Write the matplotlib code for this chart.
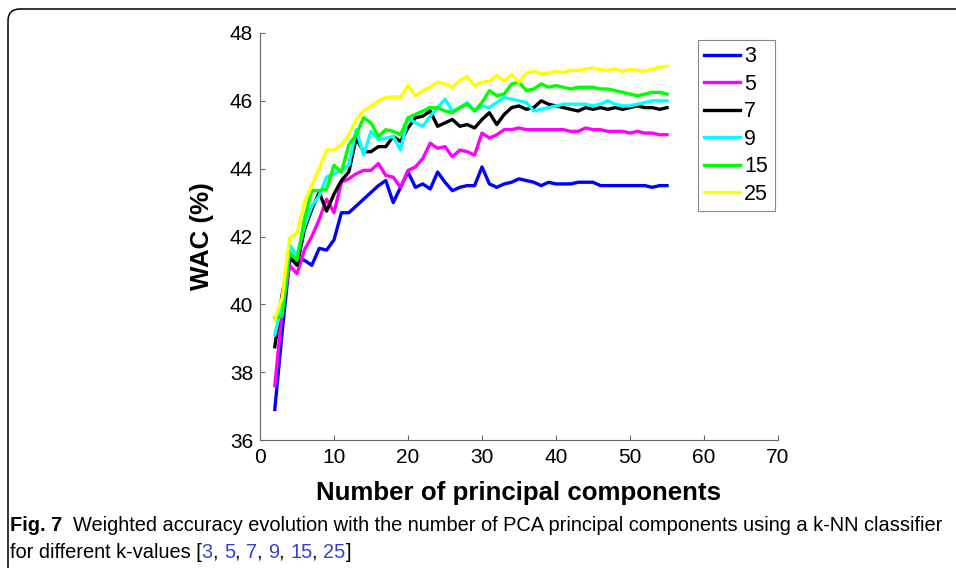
import matplotlib
matplotlib.use("Agg")
import matplotlib.pyplot as plt
from matplotlib.path import Path
from matplotlib.patches import PathPatch


W_PX, H_PX = 956, 568

n_components = list(range(2, 56))

wac_k3 = [36.9, 39.2, 41.3, 41.3, 41.3, 41.15, 41.65, 41.6, 41.9, 42.7,
          42.7, 42.9, 43.1, 43.3, 43.5, 43.65, 43.0, 43.45, 43.9, 43.45,
          43.55, 43.4, 43.9, 43.6, 43.35, 43.45, 43.5, 43.5, 44.05, 43.55,
          43.45, 43.55, 43.6, 43.7, 43.65, 43.6, 43.5, 43.6, 43.55, 43.55,
          43.55, 43.6, 43.6, 43.6, 43.5, 43.5, 43.5, 43.5, 43.5, 43.5,
          43.5, 43.45, 43.5, 43.5]
wac_k5 = [37.6, 39.8, 41.15, 40.9, 41.6, 42.0, 42.5, 43.1, 42.7, 43.6,
          43.7, 43.85, 43.95, 43.95, 44.15, 43.8, 43.75, 43.45, 43.95, 44.05,
          44.3, 44.75, 44.6, 44.65, 44.35, 44.55, 44.5, 44.4, 45.05, 44.9,
          45.0, 45.15, 45.15, 45.2, 45.15, 45.15, 45.15, 45.15, 45.15, 45.15,
          45.1, 45.1, 45.2, 45.15, 45.15, 45.1, 45.1, 45.1, 45.05, 45.1,
          45.05, 45.05, 45.0, 45.0]
wac_k7 = [38.75, 40.3, 41.4, 41.15, 42.2, 42.8, 43.3, 42.75, 43.25, 43.65,
          43.9, 44.9, 44.5, 44.5, 44.65, 44.65, 44.95, 44.8, 45.2, 45.5,
          45.55, 45.7, 45.25, 45.35, 45.45, 45.25, 45.3, 45.2, 45.45, 45.65,
          45.3, 45.6, 45.8, 45.85, 45.75, 45.8, 46.0, 45.9, 45.85, 45.8,
          45.75, 45.7, 45.8, 45.75, 45.8, 45.75, 45.8, 45.75, 45.8, 45.85,
          45.8, 45.8, 45.75, 45.8]
wac_k9 = [39.1, 40.0, 41.75, 41.45, 42.3, 42.9, 43.2, 43.75, 43.85, 43.95,
          44.1, 45.15, 44.4, 45.1, 44.85, 44.9, 44.95, 44.55, 45.5, 45.35,
          45.25, 45.55, 45.8, 46.05, 45.7, 45.8, 45.95, 45.7, 45.85, 45.8,
          45.95, 46.1, 46.05, 46.0, 45.95, 45.7, 45.75, 45.8, 45.85, 45.9,
          45.9, 45.9, 45.9, 45.85, 45.9, 46.0, 45.9, 45.85, 45.85, 45.9,
          45.95, 46.0, 46.0, 46.0]
wac_k15 = [39.6, 39.65, 41.55, 41.3, 42.5, 43.35, 43.35, 43.4, 44.1, 43.9,
           44.7, 45.0, 45.5, 45.35, 44.95, 45.15, 45.1, 45.0, 45.5, 45.6,
           45.7, 45.8, 45.8, 45.7, 45.65, 45.8, 45.9, 45.7, 45.95, 46.3,
           46.15, 46.2, 46.5, 46.55, 46.3, 46.35, 46.5, 46.4, 46.45, 46.4,
           46.35, 46.4, 46.4, 46.4, 46.35, 46.35, 46.3, 46.25, 46.2, 46.15,
           46.2, 46.25, 46.25, 46.2]
wac_k25 = [39.55, 40.2, 41.95, 42.1, 43.0, 43.5, 44.0, 44.55, 44.55, 44.7,
           45.0, 45.45, 45.7, 45.85, 46.0, 46.1, 46.12, 46.1, 46.45, 46.15,
           46.3, 46.4, 46.55, 46.5, 46.4, 46.6, 46.72, 46.45, 46.55, 46.58,
           46.75, 46.58, 46.78, 46.55, 46.82, 46.87, 46.8, 46.82, 46.88, 46.83,
           46.9, 46.9, 46.94, 46.97, 46.92, 46.9, 46.94, 46.87, 46.93, 46.9,
           46.88, 46.93, 47.0, 47.02]

k_labels = ["3", "5", "7", "9", "15", "25"]
k_colors = ["#0000ff", "#ff00ff", "#000000", "#00ffff", "#00ff00", "#ffff00"]

x_ticks = [0, 10, 20, 30, 40, 50, 60, 70]
y_ticks = [36, 38, 40, 42, 44, 46, 48]

caption_head = "Fig. 7"
caption_line1 = ("Weighted accuracy evolution with the number of PCA principal "
                 "components using a k-NN classifier")
caption_line2 = "for different k-values ["
caption_refs = ["3", "5", "7", "9", "15", "25"]


def fx(px):
    return px / W_PX


def fy(py):
    return 1 - py / H_PX


def chain_text(ax, first, pieces, fontsize, family):
    prev = first
    for text, color in pieces:
        prev = ax.annotate(text, xy=(1, 0), xycoords=prev, ha="left", va="bottom",
                           fontsize=fontsize, family=family, color=color,
                           annotation_clip=False)
    return prev


def main():
    plt.rcParams["font.family"] = ["Liberation Sans", "DejaVu Sans"]
    fig = plt.figure(figsize=(W_PX / 100, H_PX / 100), dpi=100)
    ax = fig.add_axes([fx(260), fy(440), fx(778) - fx(260), fy(33) - fy(440)])

    series = [wac_k3, wac_k5, wac_k7, wac_k9, wac_k15, wac_k25]
    for values, label, color in zip(series, k_labels, k_colors):
        ax.plot(n_components, values, color=color, linewidth=2.4, label=label)

    ax.set_xlim(0, 70)
    ax.set_ylim(36, 48)
    ax.set_xticks(x_ticks)
    ax.set_yticks(y_ticks)
    for side in ["top", "right"]:
        ax.spines[side].set_visible(False)
    for side in ["left", "bottom"]:
        ax.spines[side].set_color("#666666")
        ax.spines[side].set_linewidth(0.8)
    ax.tick_params(direction="in", length=3.5, width=0.8, color="#666666",
                   labelsize=15, labelcolor="black")
    ax.tick_params(axis="x", pad=6)
    ax.tick_params(axis="y", pad=5)

    ax.set_xlabel("Number of principal components", fontsize=18.6, fontweight="bold",
                  labelpad=10)
    ax.set_ylabel("WAC (%)", fontsize=18.6, fontweight="bold", labelpad=11)

    leg = ax.legend(loc="upper left", bbox_to_anchor=(fx(698), fy(40)),
                    bbox_transform=fig.transFigure, borderaxespad=0,
                    fontsize=15.5, handlelength=1.65, handletextpad=0.2,
                    labelspacing=0.3, borderpad=0.3, fancybox=False,
                    framealpha=1)
    leg.get_frame().set_edgecolor("#888888")
    leg.get_frame().set_linewidth(0.8)

    # rounded frame around the figure panel
    verts = [(fx(8), fy(575)), (fx(8), fy(21)), (fx(8), fy(9)), (fx(20), fy(9)),
             (fx(960), fy(9))]
    codes = [Path.MOVETO, Path.LINETO, Path.CURVE3, Path.CURVE3, Path.LINETO]
    frame = PathPatch(Path(verts, codes), transform=fig.transFigure, fill=False,
                      edgecolor="black", linewidth=1.1, clip_on=False)
    fig.add_artist(frame)

    cap_family = ["Liberation Sans", "DejaVu Sans"]
    cap_size = 14.4
    head = fig.text(fx(10), fy(531), caption_head, fontsize=cap_size,
                    fontweight="bold", family=cap_family, ha="left", va="baseline")
    chain_text(ax, head, [("  " + caption_line1, "black")], cap_size, cap_family)

    line2 = fig.text(fx(10), fy(558), caption_line2, fontsize=cap_size,
                     family=cap_family, ha="left", va="baseline")
    pieces = []
    for i, ref in enumerate(caption_refs):
        pieces.append((ref, "#3344cc"))
        pieces.append((", " if i < len(caption_refs) - 1 else "]", "black"))
    chain_text(ax, line2, pieces, cap_size, cap_family)

    fig.savefig("out.png", dpi=100)
    plt.close(fig)


if __name__ == "__main__":
    main()
